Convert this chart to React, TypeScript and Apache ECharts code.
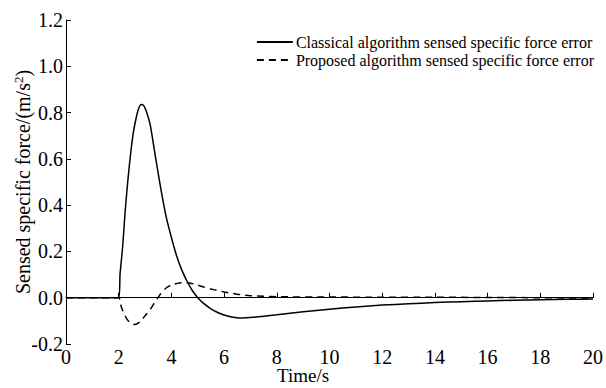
import React, { useEffect, useRef } from "react";
import * as echarts from "echarts";

const classicalTime = [0, 1, 2.0, 2.05, 2.15, 2.25, 2.35, 2.45, 2.55, 2.65, 2.75, 2.85, 2.95, 3.05, 3.2, 3.4, 3.6, 3.8, 4.0, 4.2, 4.4, 4.6, 4.8, 5.0, 5.2, 5.5, 5.8, 6.1, 6.4, 6.7, 7.0, 7.5, 8, 8.5, 9, 10, 11, 12, 13, 14, 15, 16, 17, 18, 19, 20];
const classicalValue = [0, 0, 0, 0.1, 0.22, 0.38, 0.51, 0.62, 0.71, 0.77, 0.815, 0.835, 0.83, 0.805, 0.745, 0.605, 0.47, 0.35, 0.26, 0.18, 0.118, 0.07, 0.03, 0.0, -0.022, -0.048, -0.066, -0.078, -0.085, -0.088, -0.086, -0.08, -0.074, -0.067, -0.061, -0.05, -0.04, -0.032, -0.026, -0.021, -0.017, -0.014, -0.011, -0.009, -0.007, -0.006];

const proposedTime = [0, 1, 2.0, 2.1, 2.25, 2.4, 2.6, 2.8, 3.0, 3.2, 3.4, 3.6, 3.8, 4.0, 4.3, 4.6, 4.9, 5.2, 5.6, 6.0, 6.5, 7.0, 7.5, 8, 10, 12, 14, 16, 18, 20];
const proposedValue = [0, 0, 0, -0.04, -0.08, -0.105, -0.116, -0.105, -0.078, -0.05, -0.015, 0.018, 0.042, 0.055, 0.064, 0.065, 0.058, 0.047, 0.035, 0.025, 0.015, 0.009, 0.006, 0.004, 0.003, 0.002, 0.002, 0.001, 0.0, -0.002];

const xTicks = { min: 0, max: 20, interval: 2 };
const yTicks = { min: -0.2, max: 1.2, interval: 0.2 };

const seriesNames = [
  "Classical algorithm sensed specific force error",
  "Proposed algorithm sensed specific force error",
];

const FONT = "'Liberation Serif', 'Times New Roman', serif";

export default function App() {
  const ref = useRef<HTMLDivElement>(null);
  useEffect(() => {
    if (!ref.current) return;
    const chart = echarts.init(ref.current, null, { renderer: "svg" });
    const classical = classicalTime.map((t, i) => [t, classicalValue[i]]);
    const proposed = proposedTime.map((t, i) => [t, proposedValue[i]]);
    chart.setOption({
      animation: false,
      backgroundColor: "#fff",
      color: ["#000", "#000"],
      textStyle: { fontFamily: FONT },
      grid: { left: 66, right: 13, top: 20, bottom: 44, containLabel: false, outerBoundsMode: "none" },
      legend: {
        orient: "vertical",
        right: 7,
        top: 28,
        itemWidth: 36,
        itemHeight: 14,
        itemGap: 0,
        align: "left",
        itemStyle: { opacity: 0 },
        textStyle: { fontFamily: FONT, fontSize: 16, lineHeight: 18, color: "#000", padding: [0, 0, 0, -2] },
        data: [seriesNames[0], seriesNames[1]],
      },
      xAxis: {
        type: "value",
        min: xTicks.min,
        max: xTicks.max,
        interval: xTicks.interval,
        axisLine: { lineStyle: { color: "#000", width: 1 } },
        axisTick: { inside: true, length: 5, lineStyle: { color: "#000" } },
        axisLabel: { color: "#000", fontSize: 20, fontFamily: FONT, margin: 3 },
        splitLine: { show: false },
      },
      yAxis: {
        type: "value",
        min: yTicks.min,
        max: yTicks.max,
        interval: yTicks.interval,
        name: "{a|Sensed specific force/(m/s}{s|2}{a|)}",
        nameLocation: "middle",
        nameGap: 33,
        nameMoveOverlap: false,
        nameTextStyle: {
          rich: {
            a: { fontFamily: FONT, fontSize: 20, color: "#000" },
            s: { fontFamily: FONT, fontSize: 13, color: "#000", verticalAlign: "top", padding: [0, 0, 8, 0] },
          },
        },
        axisLine: { show: true, lineStyle: { color: "#000", width: 1 } },
        axisTick: { show: true, inside: true, length: 5, lineStyle: { color: "#000" } },
        axisLabel: {
          color: "#000",
          fontSize: 20,
          fontFamily: FONT,
          margin: 3,
          formatter: (v: number) => v.toFixed(1),
        },
        splitLine: { show: false },
      },
      graphic: [
        {
          type: "text",
          left: "center",
          top: 366,
          style: { text: "Time/s", fontFamily: FONT, fontSize: 19, fill: "#000" },
        },
      ],
      series: [
        {
          name: seriesNames[0],
          type: "line",
          data: classical,
          symbol: "none",
          smooth: 0.2,
          lineStyle: { color: "#000", width: 1.5, type: "solid" },
          itemStyle: { color: "#000" },
        },
        {
          name: seriesNames[1],
          type: "line",
          data: proposed,
          symbol: "none",
          smooth: 0.2,
          lineStyle: { color: "#000", width: 1.5, type: [7, 5] },
          itemStyle: { color: "#000" },
        },
      ],
    });
    return () => chart.dispose();
  }, []);
  return <div ref={ref} style={{ width: 606, height: 388, position: "absolute", left: 0, top: 0 }} />;
}
